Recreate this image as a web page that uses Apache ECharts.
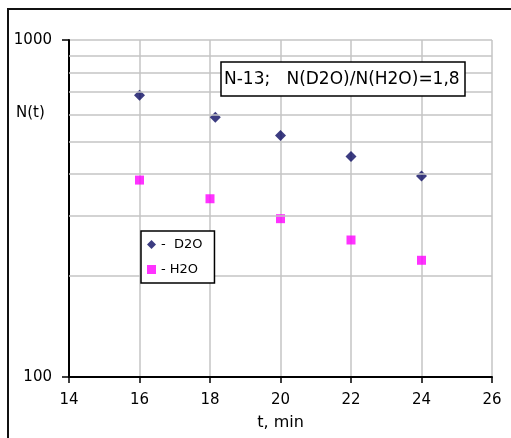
<!DOCTYPE html>
<html>
<head>
<meta charset="utf-8">
<script src="https://cdn.jsdelivr.net/npm/echarts@6/dist/echarts.min.js"></script>
<style>
  html, body { margin: 0; padding: 0; background: #fff; }
  #chart { width: 511px; height: 438px; }
</style>
</head>
<body>
<div id="chart"></div>
<script>
// data
var d2oT = [16, 18.15, 20, 22, 24];
var d2oN = [686, 590, 521, 451, 395];
var h2oT = [16, 18, 20, 22, 24];
var h2oN = [384, 338, 295, 255, 222];
var yTicks = [100, 1000];
var minorGrid = [200, 300, 400, 500, 600, 700, 800, 900];

function pairs(xs, ys) {
    var out = [];
    for (var i = 0; i < xs.length; i++) {
        out.push([xs[i], ys[i]]);
    }
    return out;
}

var font = 'DejaVu Sans';
var gridColor = '#c4c4c4';
var myChart = echarts.init(document.getElementById('chart'));

var option = {
    animation: false,
    backgroundColor: '#fff',
    textStyle: { fontFamily: font, color: '#000' },
    grid: { left: 69, right: 19, top: 40, bottom: 61 },
    title: {
        text: 'N-13;   N(D2O)/N(H2O)=1,8',
        left: 221,
        top: 62,
        padding: [9, 6, 8, 3],
        borderColor: '#000',
        borderWidth: 1.5,
        backgroundColor: '#fff',
        textStyle: { fontFamily: font, fontSize: 17, fontWeight: 'normal', color: '#000' }
    },
    legend: {
        orient: 'vertical',
        left: 141,
        top: 231,
        padding: [7, 12, 7, 6],
        itemGap: 12,
        itemWidth: 9,
        itemHeight: 9,
        borderColor: '#000',
        borderWidth: 1.5,
        backgroundColor: '#fff',
        z: 10,
        textStyle: { fontFamily: font, fontSize: 13, color: '#000' },
        formatter: function (name) {
            return name === 'D2O' ? '-  D2O' : '- H2O';
        },
        data: [
            { name: 'D2O', icon: 'diamond' },
            { name: 'H2O', icon: 'rect' }
        ]
    },
    xAxis: {
        type: 'value',
        min: 14,
        max: 26,
        interval: 2,
        name: 't, min',
        nameLocation: 'middle',
        nameGap: 38,
        nameTextStyle: { fontFamily: font, fontSize: 16, color: '#000' },
        axisLine: { lineStyle: { color: '#000', width: 2 } },
        axisTick: { length: 6, lineStyle: { color: '#000', width: 1.5 } },
        axisLabel: { fontFamily: font, fontSize: 15, color: '#000', margin: 16 },
        splitLine: { lineStyle: { color: gridColor, width: 1.5 } }
    },
    yAxis: [
        {
            type: 'log',
            logBase: 10,
            min: 100,
            max: 1000,
            axisLine: { show: true, lineStyle: { color: '#000', width: 2 } },
            axisTick: { show: false },
            axisLabel: {
                fontFamily: font, fontSize: 15, color: '#000', margin: 17,
                customValues: yTicks,
                formatter: function (v) { return String(Math.round(v)); }
            },
            splitLine: { show: true, lineStyle: { color: gridColor, width: 1.5 } }
        },
        {
            // only carries the decade tick marks (100 and 1000 are the ends)
            type: 'value',
            position: 'left',
            offset: 0,
            min: yTicks[0],
            max: yTicks[1],
            interval: yTicks[1] - yTicks[0],
            axisLine: { show: false },
            axisLabel: { show: false },
            splitLine: { show: false },
            axisTick: { show: true, length: 7, lineStyle: { color: '#000', width: 1.5 } }
        }
    ],
    graphic: [
        {
            type: 'rect',
            silent: true,
            shape: { x: 8, y: 9, width: 700, height: 700 },
            style: { fill: 'none', stroke: '#111', lineWidth: 2 }
        },
        {
            type: 'text',
            left: 16,
            top: 106,
            style: { text: 'N(t)', font: '15px "DejaVu Sans"', fill: '#000' }
        }
    ],
    series: [
        {
            name: 'grid',
            type: 'scatter',
            data: [],
            silent: true,
            markLine: {
                silent: true,
                symbol: 'none',
                label: { show: false },
                lineStyle: { color: gridColor, width: 1.5, type: 'solid' },
                data: minorGrid.map(function (v) { return { yAxis: v }; })
            }
        },
        {
            name: 'D2O',
            type: 'scatter',
            symbol: 'diamond',
            symbolSize: 11,
            itemStyle: { color: '#0b0b62' },
            data: pairs(d2oT, d2oN),
            z: 3
        },
        {
            name: 'H2O',
            type: 'scatter',
            symbol: 'rect',
            symbolSize: 9,
            itemStyle: { color: '#ff00ff' },
            data: pairs(h2oT, h2oN),
            z: 3
        }
    ]
};

myChart.setOption(option);
</script>
</body>
</html>
